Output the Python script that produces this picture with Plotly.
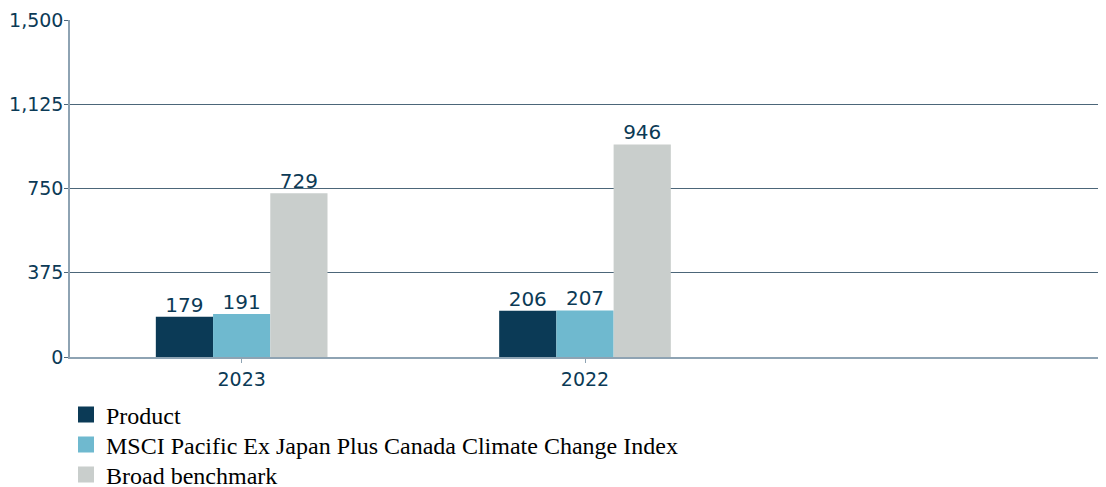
import plotly.graph_objects as go

categories = ["2023", "2022"]
series_names = ["Product", "MSCI Pacific Ex Japan Plus Canada Climate Change Index", "Broad benchmark"]
product = [179, 206]
msci = [191, 207]
broad = [729, 946]
colors = ["#0b3a56", "#6fb9cf", "#c9cecc"]
y_ticks = [0, 375, 750, 1125, 1500]

OFF = 8  # page body margin
W, H = 1106, 487

fig = go.Figure()
legend_ids = ["legend", "legend2", "legend3"]
for name, vals, col, lg in zip(series_names, [product, msci, broad], colors, legend_ids):
    fig.add_trace(go.Bar(
        x=categories, y=vals, name=name, marker=dict(color=col, line=dict(width=0)),
        showlegend=False, offsetgroup=name, alignmentgroup="g",
    ))
    fig.add_trace(go.Scatter(
        x=categories, y=vals, mode="text", name=name,
        text=[f"{v:,}" for v in vals], textposition="top center", cliponaxis=False,
        textfont=dict(family="DejaVu Sans", size=20, color="#0b3a56"),
        showlegend=False, offsetgroup=name, alignmentgroup="g", hoverinfo="skip",
    ))
    fig.add_trace(go.Scatter(
        x=[None], y=[None], mode="markers", name=name, legend=lg,
        marker=dict(symbol="square", size=16, color=col),
    ))

legend_rows = [415, 445, 475]
legend_common = dict(
    orientation="v", xref="container", yref="container",
    x=(66 - OFF) / W, xanchor="left", yanchor="middle",
    font=dict(family="Liberation Serif", size=24, color="#000000"),
    itemwidth=30, bgcolor="rgba(0,0,0,0)",
)
layout_legends = {}
for lg, row in zip(legend_ids, legend_rows):
    layout_legends[lg] = dict(legend_common, y=1 - (row - OFF) / H)

fig.update_layout(
    width=W, height=H,
    margin=dict(l=70 - OFF, r=6 + OFF, t=20 - OFF, b=H - (357 - OFF), autoexpand=False),
    plot_bgcolor="white", paper_bgcolor="white",
    barmode="group", bargap=0.5, bargroupgap=0,
    scattermode="group", scattergap=0.5,
    showlegend=True,
    **layout_legends,
)
fig.update_xaxes(
    type="category", range=[-0.5, 2.5], automargin=False,
    showline=True, linecolor="#8ea3b3", linewidth=1.5,
    ticks="outside", ticklen=4, tickcolor="#8ea3b3",
    tickfont=dict(family="DejaVu Sans", size=19, color="#0b3a56"),
    showgrid=False,
)
fig.update_yaxes(
    range=[0, 1500], tickvals=y_ticks, ticktext=[f"{v:,}" for v in y_ticks],
    automargin=False,
    showline=True, linecolor="#8ea3b3", linewidth=1.5,
    ticks="outside", ticklen=4, tickcolor="#4c6679",
    ticklabelstandoff=-3,
    gridcolor="#4c6679", gridwidth=1,
    tickfont=dict(family="DejaVu Sans", size=19, color="#0b3a56"),
    zeroline=False,
)

fig.write_html("out.html")
